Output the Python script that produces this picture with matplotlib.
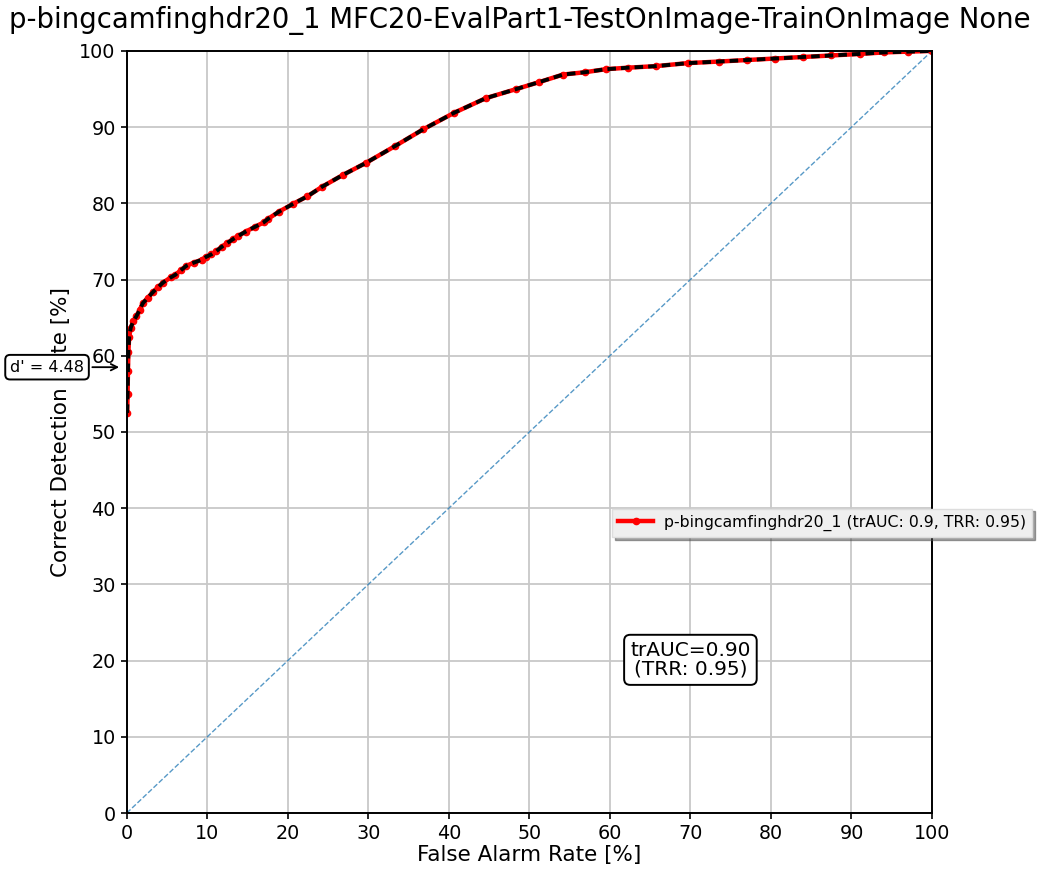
import matplotlib
matplotlib.use("Agg")
import matplotlib.pyplot as plt

# ROC operating points (percent)
far = [0.05, 0.1, 0.15, 0.2, 0.3, 0.5, 0.8, 1.2, 1.6, 2.0, 2.6, 3.3, 3.9, 4.5, 5.5, 6.0,
       6.7, 7.4, 8.3, 9.3, 9.9, 10.5, 11.1, 11.8, 12.5, 13.2, 13.8, 14.8, 15.9, 17.0,
       17.6, 18.9, 20.6, 22.4, 24.3, 26.8, 29.7, 33.3, 36.8, 40.7, 44.6, 48.4, 51.2,
       54.2, 56.9, 59.5, 62.3, 65.7, 69.7, 73.5, 77.0, 80.5, 84.0, 87.5, 91.0, 94.0,
       97.0, 100.0]
cdr = [52.5, 55.0, 58.0, 60.5, 62.5, 63.7, 64.5, 65.2, 66.0, 66.9, 67.6, 68.4, 69.0,
       69.6, 70.3, 70.6, 71.2, 71.8, 72.2, 72.6, 73.0, 73.3, 73.7, 74.3, 74.8, 75.3,
       75.7, 76.3, 76.9, 77.5, 78.0, 78.9, 79.9, 80.9, 82.2, 83.7, 85.3, 87.5, 89.7,
       91.9, 93.8, 95.0, 95.9, 96.9, 97.2, 97.6, 97.8, 98.0, 98.4, 98.6, 98.8, 99.0,
       99.2, 99.4, 99.6, 99.8, 99.9, 100.0]

title = "p-bingcamfinghdr20_1 MFC20-EvalPart1-TestOnImage-TrainOnImage None"
legend_label = "p-bingcamfinghdr20_1 (trAUC: 0.9, TRR: 0.95)"
dprime = 4.48
dprime_y = 58.5
trauc = 0.90
trr = 0.95

fig = plt.figure(figsize=(10.39, 8.73), dpi=100)
ax = fig.add_axes([0.122, 0.0687, 0.775, 0.873])

# diagonal reference
ax.plot([0, 100], [0, 100], "--", color="C0", alpha=0.75, lw=1)

# ROC curve + dashed overlay
ax.plot(far, cdr, ".-", color="red", lw=3.2, markersize=9, label=legend_label)
ax.plot(far, cdr, "--", color="black", lw=2.8, dashes=(2.2, 1.3))

ax.set_xlim(0, 100)
ax.set_ylim(0, 100)
ax.set_xticks(range(0, 101, 10))
ax.set_yticks(range(0, 101, 10))
ax.tick_params(labelsize=13.8, length=4, width=1.2, pad=4)
ax.grid(True, color="#c8c8c8", lw=1.3)
for s in ax.spines.values():
    s.set_linewidth(1.4)

ax.set_xlabel("False Alarm Rate [%]", fontsize=15.5, labelpad=1)
ax.set_ylabel("Correct Detection Rate [%]", fontsize=15.5, labelpad=6)
fig.text(0.5, 0.968, title, fontsize=19.8, ha="center", va="baseline")

bbox = dict(boxstyle="round,pad=0.3", fc="white", ec="black", lw=1.4)
ax.annotate("d' = %.2f" % dprime, xy=(-0.6, dprime_y), xytext=(-9.9, dprime_y),
            ha="center", va="center", fontsize=11.5, bbox=bbox,
            arrowprops=dict(arrowstyle="->", color="black", lw=1.3),
            annotation_clip=False, zorder=10)
ax.text(70, 20.1, "trAUC=%.2f\n(TRR: %.2f)" % (trauc, trr), ha="center", va="center",
        fontsize=14.5, bbox=bbox, linespacing=1.0)

leg = fig.legend(loc="center left", bbox_to_anchor=(0.589, 0.401), fontsize=11.3,
                 shadow=True, fancybox=False, framealpha=1, facecolor="#efefef",
                 edgecolor="#dddddd", handlelength=2.2, handletextpad=0.7,
                 borderpad=0.4, borderaxespad=0)

fig.savefig("out.png", dpi=100)
